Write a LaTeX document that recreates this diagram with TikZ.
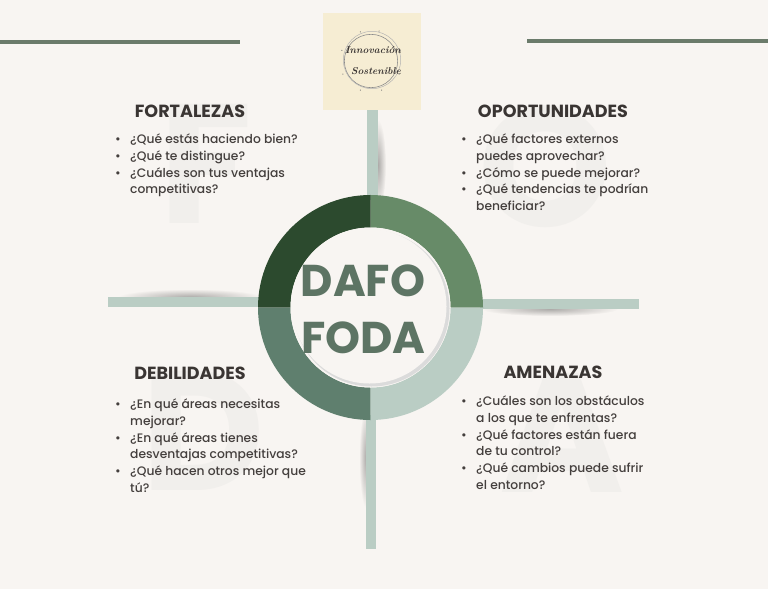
\documentclass[tikz,border=0pt]{standalone}
\usepackage{fontspec}
\setmainfont{Poppins}
\newfontfamily\askfont{Poppins Medium}
\newfontfamily\logofont{Latin Modern Roman}
\usetikzlibrary{fadings}
\definecolor{Paper}{HTML}{F8F5F2}
\definecolor{Ghost}{HTML}{F1EFEC}
\definecolor{Rule}{HTML}{6B7B6B}
\definecolor{Bar}{HTML}{BACDC4}
\definecolor{Pine}{HTML}{2C4A2E}
\definecolor{Fern}{HTML}{678B68}
\definecolor{Moss}{HTML}{5F7F6E}
\definecolor{Slate}{HTML}{5D7464}
\definecolor{Ink}{HTML}{3A3533}
\definecolor{Cream}{HTML}{F6EDD3}
\tikzfading[name=softblob,inner color=transparent!0,outer color=transparent!100]
\tikzset{
  heading/.style={text=Ink,font=\fontsize{15}{17}\selectfont\bfseries,inner sep=0pt},
  asklist/.style={text=Ink!95,font=\fontsize{10.5}{14.5}\selectfont\askfont,align=left,anchor=north west,inner sep=0pt},
  ghostletter/.style={text=Ghost,font=\fontsize{145}{145}\selectfont\bfseries,inner sep=0pt,anchor=base},
  hubword/.style={text=Slate,font=\fontsize{38}{38}\selectfont\bfseries,inner sep=0pt,anchor=base},
  logoword/.style={text=Ink,font=\fontsize{8.5}{8.5}\selectfont\logofont\bfseries\itshape,inner sep=0pt},
  softshade/.style={black,opacity=.3,path fading=softblob}
}
\newcommand{\ask}{\llap{•\hspace{8pt}}}
\begin{document}
\begin{tikzpicture}[x=.03cm,y=-.03cm]
    \fill[Paper] (0,0) rectangle (768,589);
    \useasboundingbox (0,0) rectangle (768,589);
    % letters behind the text
    \node[ghostletter] (ghostF) at (206,223) {F};
    \node[ghostletter] (ghostO) at (545,226) {O};
    \node[ghostletter] (ghostD) at (203,490) {D};
    \node[ghostletter] (ghostA) at (562,492) {A};
    % top rules
    \fill[Rule] (0,39.5) rectangle (240,43.5);
    \fill[Rule] (527,39) rectangle (768,43);
    % soft shadows and arms
    \fill[softshade] (190,297) ellipse (72 and 8);
    \fill[softshade] (550,309) ellipse (68 and 7);
    \fill[softshade] (378,165) ellipse (8 and 45);
    \fill[softshade] (366,458) ellipse (7 and 50);
    \fill[Bar] (367,110) rectangle (378,200);
    \fill[Bar] (366,415) rectangle (376,549);
    \fill[Bar] (108,297) rectangle (262,307);
    \fill[Bar] (480,299) rectangle (639,309);
    % ring
    \coordinate (hub) at (370.5,307.5);
    \def\ringout{3.375cm}
    \def\ringin{2.4cm}
    \foreach \ang/\col in {0/Fern,90/Pine,180/Moss,270/Bar}{
      \fill[\col] (hub) ++(\ang:\ringout) arc[start angle=\ang,delta angle=90,radius=\ringout]
        -- ++(\ang+90:-.975cm) arc[start angle=\ang+90,delta angle=-90,radius=\ringin] -- cycle;
    }
    \fill[Paper] (hub) circle (\ringin);
    \fill[black!14] (371.5,308.5) circle (2.34cm);
    \fill[Paper] (369.5,306.5) circle (2.31cm);
    \node[hubword] (dafo) at (363,296.7) {DAFO};
    \node[hubword] (foda) at (363.5,353.3) {FODA};
    % logo
    \fill[Cream] (323,13) rectangle (421,110);
    \draw[black!45,line width=.5pt] (371,61) circle (.8cm);
    \draw[black!30,line width=.4pt] (372,60) circle (.86cm);
    \foreach \ang in {20,75,110,160,205,250,290,335}
      \fill[black!55] (371,61) ++(\ang:.93cm) circle (.5pt);
    \node[logoword] (logoA) at (373,50) {Innovación};
    \node[logoword] (logoB) at (376,71) {Sostenible};
    % quadrant headings
    \node[heading] (fortalezas) at (190,111.5) {FORTALEZAS};
    \node[heading] (oportunidades) at (553,111.5) {OPORTUNIDADES};
    \node[heading] (debilidades) at (190,373.5) {DEBILIDADES};
    \node[heading] (amenazas) at (553,372.5) {AMENAZAS};
    % quadrant lists
    \node[asklist] (askF) at (130,133) {\ask ¿Qué estás haciendo bien?\\\ask ¿Qué te distingue?\\\ask ¿Cuáles son tus ventajas\\competitivas?};
    \node[asklist] (askO) at (476,133) {\ask ¿Qué factores externos\\puedes aprovechar?\\\ask ¿Cómo se puede mejorar?\\\ask ¿Qué tendencias te podrían\\beneficiar?};
    \node[asklist] (askD) at (130,398) {\ask ¿En qué áreas necesitas\\mejorar?\\\ask ¿En qué áreas tienes\\desventajas competitivas?\\\ask ¿Qué hacen otros mejor que\\tú?};
    \node[asklist] (askA) at (476,395) {\ask ¿Cuáles son los obstáculos\\a los que te enfrentas?\\\ask ¿Qué factores están fuera\\de tu control?\\\ask ¿Qué cambios puede sufrir\\el entorno?};
  \end{tikzpicture}
\end{document}
